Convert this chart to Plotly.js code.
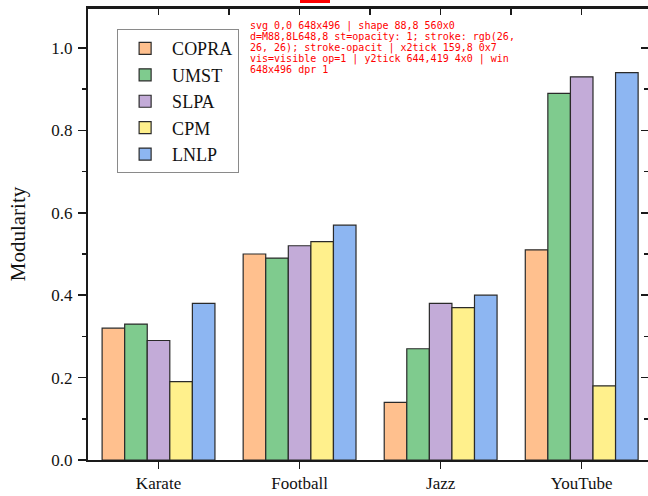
<!DOCTYPE html>
<html>
<head>
<meta charset="utf-8">
<script src="https://cdn.plot.ly/plotly-3.0.1.min.js"></script>
<style>
html,body{margin:0;padding:0;background:#fff;overflow:hidden;}
#chart{width:648px;height:496px;}
#dbg{position:absolute;left:250px;top:20px;width:270px;font:10px monospace;color:red;background:#fff;}
#mk{position:absolute;left:300px;top:0px;width:30px;height:3px;background:red;}
</style>
</head>
<body>
<div id="chart"></div>
<div id="mk"></div>
<div id="dbg"></div>
<script>
const categories = ["Karate", "Football", "Jazz", "YouTube"];
const seriesNames = ["COPRA", "UMST", "SLPA", "CPM", "LNLP"];
const COPRA = [0.32, 0.50, 0.14, 0.51];
const UMST  = [0.33, 0.49, 0.27, 0.89];
const SLPA  = [0.29, 0.52, 0.38, 0.93];
const CPM   = [0.19, 0.53, 0.37, 0.18];
const LNLP  = [0.38, 0.57, 0.40, 0.94];
const yTickVals = [0.0, 0.2, 0.4, 0.6, 0.8, 1.0];
const yTickText = ["0.0", "0.2", "0.4", "0.6", "0.8", "1.0"];
const topTickVals = [0, 0.5, 1, 1.5, 2, 2.5, 3];

const seriesValues = [COPRA, UMST, SLPA, CPM, LNLP];
const colors = ["#FFC08E", "#7FCB8E", "#C3ABD8", "#FFF08C", "#8DB6F2"];
const FONT = "Liberation Serif";

const traces = seriesNames.map((name, i) => ({
  type: "bar", name: name, x: categories, y: seriesValues[i],
  marker: {color: colors[i], line: {color: "#2a2a2a", width: 1.2}}, hoverinfo: "skip"
}));
traces.push({type: "scatter", mode: "markers", x: [1], y: [0.5], xaxis: "x2", yaxis: "y2", marker: {opacity: 0}, showlegend: false, hoverinfo: "skip"});

const yRange = [0, 1.097];
const xRange = [-0.5, 3.47];

const layout = {
  width: 648, height: 496,
  margin: {l: 88, r: 0, t: 8, b: 36},
  paper_bgcolor: "#ffffff", plot_bgcolor: "#ffffff",
  barmode: "group", bargap: 0.2, bargroupgap: 0,
  font: {family: FONT, color: "#111111", size: 17},
  legend: {x: 0.052, y: 0.953, xanchor: "left", yanchor: "top", bgcolor: "#ffffff", bordercolor: "#8a8a8a", borderwidth: 1,
    font: {family: FONT, size: 18, color: "#111111"}, tracegroupgap: 0, itemwidth: 44},
  xaxis: {type: "category", range: xRange, showline: true, linecolor: "#1a1a1a", linewidth: 2, mirror: true,
    ticks: "outside", ticklen: 7, tickwidth: 1.5, tickcolor: "#1a1a1a", showgrid: false, zeroline: false,
    tickfont: {family: FONT, size: 17, color: "#111111"}},
  xaxis2: {overlaying: "x", side: "top", anchor: "y2", range: xRange, ticks: "inside", ticklen: 7, tickwidth: 1.5,
    tickcolor: "#1a1a1a", tickmode: "array", tickvals: topTickVals, showticklabels: false, showgrid: false, zeroline: false},
  yaxis: {range: yRange, title: {text: "Modularity", font: {family: FONT, size: 21, color: "#111111"}, standoff: 20},
    showline: true, linecolor: "#1a1a1a", linewidth: 2, mirror: true, ticks: "outside", ticklen: 8, tickwidth: 1.5, tickcolor: "#1a1a1a",
    tickmode: "array", tickvals: yTickVals, ticktext: yTickText,
    minor: {dtick: 0.1, tick0: 0, ticks: "outside", ticklen: 4, tickwidth: 1.5, tickcolor: "#1a1a1a", showgrid: false},
    showgrid: false, zeroline: false, tickfont: {family: FONT, size: 17, color: "#111111"}, ticklabelstandoff: 2},
  yaxis2: {overlaying: "y", side: "right", anchor: "x2", range: yRange, ticks: "inside", ticklen: 7, tickwidth: 1.5, tickcolor: "#1a1a1a",
    tickmode: "array", tickvals: yTickVals,
    minor: {dtick: 0.1, tick0: 0, ticks: "inside", ticklen: 4, tickwidth: 1.5, tickcolor: "#1a1a1a", showgrid: false},
    showticklabels: false, showgrid: false, zeroline: false},
  shapes: [{type: "line", xref: "paper", yref: "paper", x0: 0, x1: 1, y0: 1, y1: 1, line: {color: "#1a1a1a", width: 2}}]
};

Plotly.newPlot("chart", traces, layout, {staticPlot: true, displayModeBar: false}).then(() => {
  const info = [];
  const r = e => { const b = e.getBoundingClientRect(); return Math.round(b.x)+','+Math.round(b.y)+' '+Math.round(b.width)+'x'+Math.round(b.height); };
  const ms = document.querySelector('.main-svg'); info.push('svg ' + r(ms));
  const yl = document.querySelector('path.yline'); if (yl) info.push('yline ' + r(yl) + ' d=' + yl.getAttribute('d'));
  const xl = document.querySelectorAll('path.xline'); xl.forEach(e => info.push('xline ' + r(e) + ' d=' + e.getAttribute('d')));
  const sh = document.querySelectorAll('.shapelayer path'); sh.forEach(e => info.push('shape ' + r(e) + ' d=' + e.getAttribute('d') + ' st=' + (e.getAttribute('style')||'').slice(0,50)));
  const t2 = document.querySelector('path.x2tick'); if (t2) info.push('x2tick ' + r(t2) + ' vis=' + getComputedStyle(t2).visibility + ' op=' + getComputedStyle(t2).opacity);
  const y2 = document.querySelector('path.y2tick'); if (y2) info.push('y2tick ' + r(y2));
  info.push('win ' + innerWidth + 'x' + innerHeight + ' dpr ' + devicePixelRatio);
  document.getElementById('dbg').textContent = info.join(' | ');
}).catch(e => { document.getElementById('dbg').textContent = 'ERR ' + e; });
</script>
</body>
</html>
